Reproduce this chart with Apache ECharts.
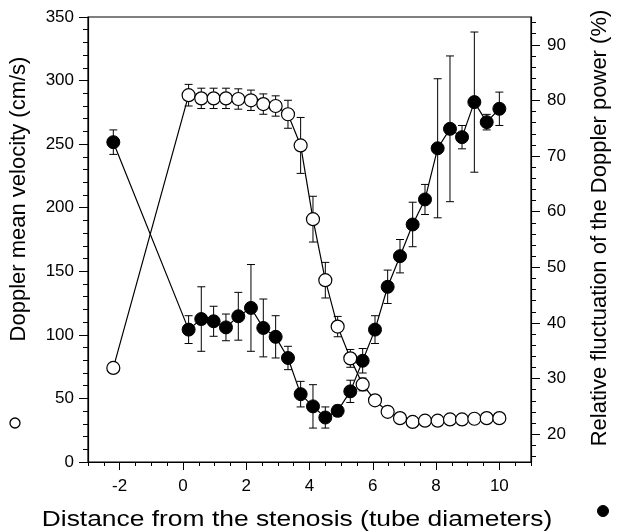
<!DOCTYPE html>
<html><head><meta charset="utf-8">
<script src="https://cdn.jsdelivr.net/npm/echarts@6/dist/echarts.min.js"></script>
<style>html,body{margin:0;padding:0;background:#fff}#c{width:618px;height:532px}</style>
</head><body><div id="c"></div>
<script>
// ---- data ----
const distance = [-2.2, 0.18, 0.58, 0.97, 1.36, 1.75, 2.15, 2.54, 2.93, 3.32, 3.72, 4.11, 4.5, 4.89, 5.29, 5.68, 6.07, 6.47, 6.86, 7.26, 7.65, 8.05, 8.44, 8.82, 9.21, 9.6, 10.0];
const velocity = [74, 288.5, 286, 286, 286, 285.5, 284.5, 281.5, 280, 273.5, 249, 191, 143, 106.5, 81.5, 61, 48.5, 39.5, 34.5, 31.5, 32.5, 32.5, 33.5, 33.5, 34, 34.5, 34.5];
const velocityErr = [0, 8.5, 8, 8, 8, 8, 8, 8, 8, 11, 22, 18, 14, 8, 7, 5, 3, 0, 0, 0, 0, 0, 0, 0, 0, 0, 0];
const fluctuation = [72.5, 38.8, 40.7, 40.3, 39.2, 41.2, 42.7, 39.1, 37.5, 33.7, 27.2, 25.0, 23.0, 24.2, 27.7, 33.2, 38.8, 46.5, 52.0, 57.7, 62.2, 71.4, 74.9, 73.4, 79.7, 76.1, 78.5];
const fluctuationErr = [2.2, 2.5, 5.8, 2.7, 2.4, 4.3, 7.8, 5.2, 3.8, 2.1, 2.3, 3.9, 1.9, 1.0, 2.0, 2.2, 2.5, 3.0, 3.0, 4.0, 2.7, 12.5, 13.1, 2.1, 12.6, 1.4, 3.0];
const xTickLabels = [-2, 0, 2, 4, 6, 8, 10];
const xMinorTicks = [-3, -2.5, -2, -1.5, -1, -0.5, 0, 0.5, 1, 1.5, 2, 2.5, 3, 3.5, 4, 4.5, 5, 5.5, 6, 6.5, 7, 7.5, 8, 8.5, 9, 9.5, 10, 10.5, 11];
const rightTickLabels = [20, 30, 40, 50, 60, 70, 80, 90];
const rightMinorTicks = [16, 18, 20, 22, 24, 26, 28, 30, 32, 34, 36, 38, 40, 42, 44, 46, 48, 50, 52, 54, 56, 58, 60, 62, 64, 66, 68, 70, 72, 74, 76, 78, 80, 82, 84, 86, 88, 90, 92, 94];
const xTitle = 'Distance from the stenosis (tube diameters)';
const leftTitle = 'Doppler mean velocity (cm/s)';
const rightTitle = 'Relative fluctuation of the Doppler power (%)';

const FONT = '"Liberation Sans", Arial, Helvetica, sans-serif';
const velPts = distance.map((d, i) => [d, velocity[i]]);
const velErrPts = distance.map((d, i) => [d, velocity[i], velocityErr[i]]);
const flPts = distance.map((d, i) => [d, fluctuation[i]]);
const flErrPts = distance.map((d, i) => [d, fluctuation[i], fluctuationErr[i]]);

function errRender(params, api) {
  const x = api.value(0), y = api.value(1), e = api.value(2);
  if (!e) return null;
  const top = api.coord([x, y + e]), bot = api.coord([x, y - e]);
  const hw = 4;
  const style = { stroke: '#000', lineWidth: 1, fill: null };
  return { type: 'group', children: [
    { type: 'line', shape: { x1: top[0], y1: top[1], x2: bot[0], y2: bot[1] }, style },
    { type: 'line', shape: { x1: top[0] - hw, y1: top[1], x2: top[0] + hw, y2: top[1] }, style },
    { type: 'line', shape: { x1: bot[0] - hw, y1: bot[1], x2: bot[0] + hw, y2: bot[1] }, style }
  ]};
}

const chart = echarts.init(document.getElementById('c'), null, { renderer: 'canvas' });
const axisLine = { show: true, onZero: false, lineStyle: { color: '#000', width: 1.2 } };
const noLine = { show: false, onZero: false };
const labelStyle = { color: '#000', fontSize: 17, fontFamily: FONT };

chart.setOption({
  animation: false,
  backgroundColor: '#fff',
  grid: { left: 88, right: 87, top: 17, bottom: 70, show: true, borderColor: '#000', borderWidth: 1.2, backgroundColor: 'transparent' },
  xAxis: [
    { type: 'value', min: -3, max: 11, position: 'bottom', axisLine,
      axisTick: { show: true, length: 8, customValues: xTickLabels, lineStyle: { color: '#000' } },
      axisLabel: { ...labelStyle, margin: 16, customValues: xTickLabels },
      splitLine: { show: false } },
    { type: 'value', min: -3, max: 11, position: 'bottom', axisLine: noLine,
      axisTick: { show: true, length: 4, customValues: xMinorTicks, lineStyle: { color: '#000' } },
      axisLabel: { show: false }, splitLine: { show: false } }
  ],
  yAxis: [
    { type: 'value', min: 0, max: 350, interval: 50, position: 'left', axisLine,
      axisTick: { show: true, length: 9, lineStyle: { color: '#000' } },
      minorTick: { show: true, splitNumber: 5, length: 5, lineStyle: { color: '#000' } },
      axisLabel: { ...labelStyle, margin: 14 },
      splitLine: { show: false } },
    { type: 'value', min: 15, max: 95, position: 'right', axisLine,
      axisTick: { show: true, length: 9, customValues: rightTickLabels, lineStyle: { color: '#000' } },
      axisLabel: { ...labelStyle, margin: 16, customValues: rightTickLabels },
      splitLine: { show: false } },
    { type: 'value', min: 15, max: 95, position: 'right', axisLine: noLine,
      axisTick: { show: true, length: 5, customValues: rightMinorTicks, lineStyle: { color: '#000' } },
      axisLabel: { show: false }, splitLine: { show: false } }
  ],
  series: [
    { type: 'custom', name: 'velErr', xAxisIndex: 0, yAxisIndex: 0, renderItem: errRender, data: velErrPts, encode: { x: 0, y: 1 }, z: 1, silent: true },
    { type: 'custom', name: 'flErr', xAxisIndex: 0, yAxisIndex: 1, renderItem: errRender, data: flErrPts, encode: { x: 0, y: 1 }, z: 1, silent: true },
    { type: 'line', name: 'velocity', xAxisIndex: 0, yAxisIndex: 0, data: velPts, symbol: 'circle', symbolSize: 13,
      itemStyle: { color: '#fff', borderColor: '#000', borderWidth: 1.2 }, lineStyle: { color: '#000', width: 1.2 }, z: 3 },
    { type: 'line', name: 'fluctuation', xAxisIndex: 0, yAxisIndex: 1, data: flPts, symbol: 'circle', symbolSize: 13,
      itemStyle: { color: '#000', borderColor: '#000', borderWidth: 1 }, lineStyle: { color: '#000', width: 1.2 }, z: 4 }
  ],
  graphic: [
    { type: 'text', x: 297, y: 520, scaleX: 1.2, style: { text: xTitle, fill: '#000', font: '22px ' + FONT, textAlign: 'center', textVerticalAlign: 'middle' } },
    { type: 'text', x: 19, y: 199, rotation: Math.PI / 2, style: { text: leftTitle, fill: '#000', font: '22px ' + FONT, textAlign: 'center', textVerticalAlign: 'middle' } },
    { type: 'text', x: 600, y: 228, rotation: Math.PI / 2, style: { text: rightTitle, fill: '#000', font: '22px ' + FONT, textAlign: 'center', textVerticalAlign: 'middle' } },
    { type: 'circle', shape: { cx: 15, cy: 423, r: 5 }, style: { fill: '#fff', stroke: '#000', lineWidth: 1.3 } },
    { type: 'circle', shape: { cx: 603, cy: 511, r: 5.5 }, style: { fill: '#000', stroke: '#000' } }
  ]
});
</script>
</body></html>
